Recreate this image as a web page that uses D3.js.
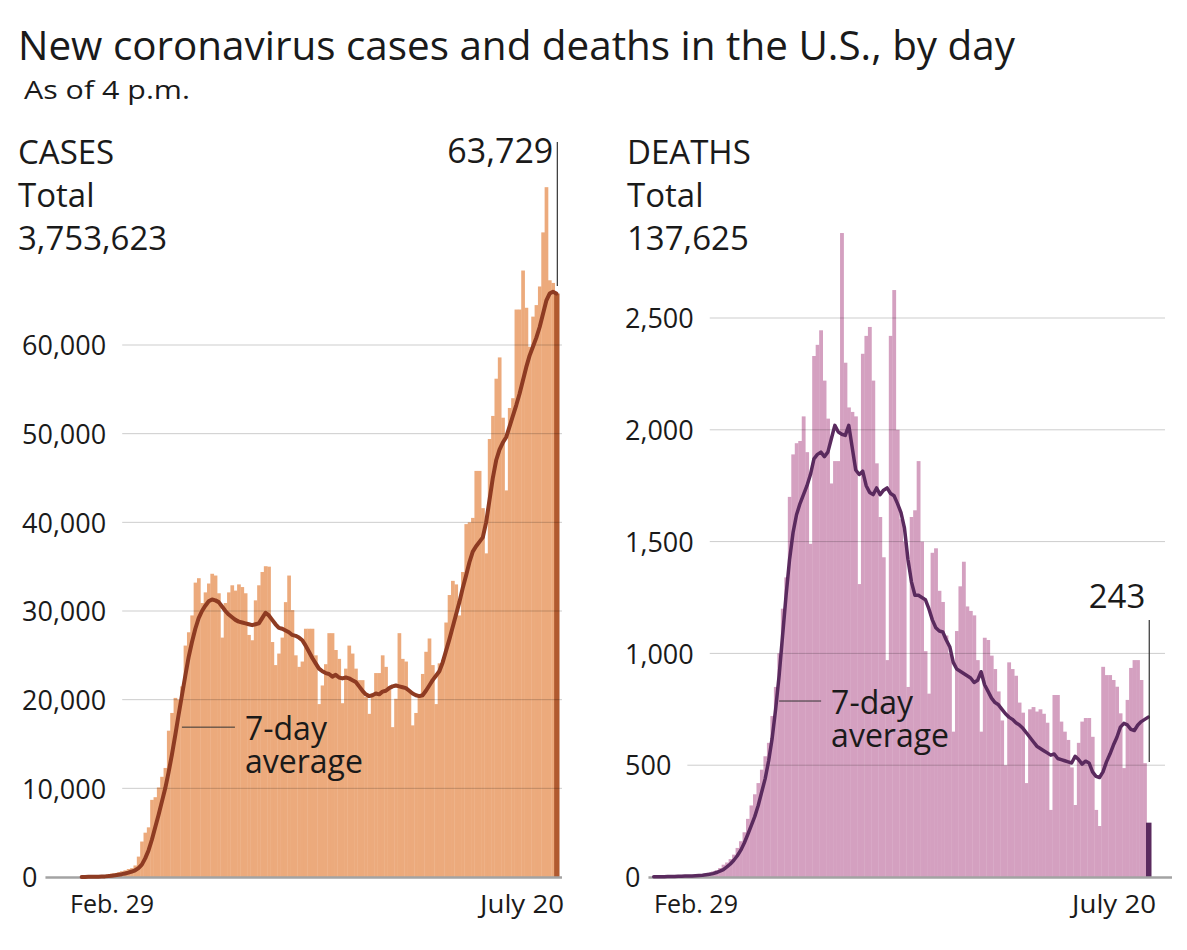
<!DOCTYPE html>
<html><head><meta charset="utf-8">
<script src="https://cdn.jsdelivr.net/npm/d3@7/dist/d3.min.js"></script>
<style>
body{margin:0;background:#fff}
text{font-family:"Open Sans",sans-serif;fill:#1a1a1a}
</style>
</head><body>
<svg id="c" width="1187" height="950"></svg>
<script>
// ---------- DATA ----------
const dates = d3.timeDay.range(new Date(2020, 1, 29), new Date(2020, 6, 21)); // Feb 29 .. July 20

const caseValues = [
  10,20,25,30,60,80,120,200,300,400,
  450,550,650,750,900,1000,1300,2300,4000,5000,
  5600,8700,9000,10100,11300,12300,16500,18500,20200,20000,
  21500,26100,27600,29500,33200,33700,30900,32100,33100,34200,
  34000,32000,27000,30900,32100,32900,32300,33000,32700,32000,
  27300,26700,31200,32900,34400,35050,35000,26500,23900,25200,
  27000,31000,34000,30100,25000,23700,24300,28000,28000,28000,
  25000,19500,21600,24000,27500,27500,25600,24600,19600,23500,
  26100,25200,23500,22200,22200,20300,18400,20300,23000,23000,
  25000,23700,21100,16900,20100,27500,24600,24300,21000,17100,
  18500,20500,22900,25400,26900,23900,19500,24100,24500,28700,
  31800,33400,33000,29500,34400,39800,40000,40500,45800,45800,
  41600,36500,49400,52000,56200,58600,51800,43600,52900,54000,
  64000,64000,68400,64200,59800,63200,64500,66600,72700,77800,
  67300,67000,65800
];
const caseAvg = [
  10,12,15,18,25,35,50,70,100,140,
  190,250,320,400,500,620,760,1000,1400,2100,
  3000,4200,5600,7000,8500,10000,11800,13800,16000,18300,
  20500,22700,24800,26500,28000,29200,30000,30600,31100,31300,
  31200,31000,30500,30000,29600,29300,29000,28800,28700,28600,
  28500,28400,28500,28600,29200,29800,29500,29000,28500,28100,
  28000,27800,27600,27300,27200,27000,26700,26100,25400,24700,
  24100,23500,23200,23000,22900,22600,22800,22500,22400,22500,
  22400,22200,22000,21500,21000,20600,20400,20500,20700,20600,
  20900,21000,21300,21500,21600,21500,21400,21300,21000,20700,
  20500,20400,20500,21000,21600,22200,22700,23200,24200,25500,
  26800,28200,29600,31000,32600,34000,35500,36700,37300,37800,
  38300,40000,42500,45000,47000,48200,49000,49600,50800,52000,
  53200,54500,56000,57500,58800,59800,60800,62000,63500,65000,
  65800,66000,65800
];
const deathValues = [
  1,1,2,1,2,3,2,4,5,4,
  7,8,9,11,12,15,20,25,30,40,
  55,65,80,100,130,160,200,260,320,370,
  420,480,540,600,720,850,1000,1200,1340,1700,
  1890,1940,1950,2060,1900,1490,2330,2380,2445,2220,
  2050,1760,1860,1860,2880,2300,2100,2080,2060,1310,
  2340,2420,2460,2220,1850,1610,1430,970,2420,2625,
  2000,1600,1500,850,1610,1640,1860,1500,1010,820,
  1450,1470,1280,1230,1080,1000,650,1100,1300,1410,
  1210,1190,1170,970,650,1070,1060,990,930,830,
  700,500,960,930,900,780,735,420,750,760,
  740,750,730,690,300,814,814,695,650,613,
  490,322,600,695,711,711,627,300,228,940,
  903,903,881,851,732,487,792,935,970,970,
  881,509,243
];
const deathAvg = [
  1,1,1,1,2,2,2,3,3,4,
  4,5,6,7,8,10,12,15,20,26,
  33,45,58,75,95,120,152,190,230,270,
  320,380,440,520,620,750,900,1080,1260,1420,
  1540,1620,1670,1710,1750,1800,1870,1890,1900,1880,
  1900,1960,2020,1990,1980,1975,2020,1920,1820,1800,
  1815,1750,1720,1710,1740,1710,1730,1740,1715,1705,
  1670,1630,1560,1420,1320,1260,1260,1250,1240,1200,
  1150,1115,1100,1096,1060,1030,960,930,920,910,
  900,890,870,880,918,860,830,800,780,770,
  750,730,715,705,690,680,665,645,625,605,
  585,575,565,555,545,550,530,525,520,515,
  510,540,525,505,518,510,470,450,445,470,
  515,550,590,625,670,687,680,660,655,680,
  695,705,715
];
const caseTicks = [0, 10000, 20000, 30000, 40000, 50000, 60000];
const deathTicks = [0, 500, 1000, 1500, 2000, 2500];
const xTickLabels = ["Feb. 29", "July 20"];

// ---------- DRAW ----------
const svg = d3.select("#c");

svg.append("text").attr("x", 18).attr("y", 60)
  .attr("font-size", 41).attr("textLength", 997).attr("lengthAdjust", "spacingAndGlyphs")
  .text("New coronavirus cases and deaths in the U.S., by day");
svg.append("text").attr("x", 24).attr("y", 99).attr("font-size", 26)
  .attr("textLength", 166).attr("lengthAdjust", "spacingAndGlyphs").text("As of 4 p.m.");

function panel(cfg) {
  const g = svg.append("g");
  const x = d3.scaleBand().domain(dates).range(cfg.xRange).padding(0);
  const y = d3.scaleLinear().domain(cfg.yDomain).range([877, cfg.yTop]);
  const bw = x.bandwidth();
  const n = cfg.values.length;

  // header (one text block, three lines)
  const h = g.append("text").attr("x", cfg.headerX).attr("y", 164).attr("font-size", 33);
  cfg.header.forEach((t, k) => {
    h.append("tspan").attr("x", cfg.headerX).attr("dy", k === 0 ? 0 : 43).text(t);
  });

  // bars
  g.append("g").selectAll("rect").data(cfg.values).join("rect")
    .attr("x", (d, i) => i === n - 1 ? x(dates[i]) - 0.5 : x(dates[i]))
    .attr("y", d => y(d))
    .attr("width", (d, i) => i === n - 1 ? bw + 2 : bw + 0.35)
    .attr("height", d => y(0) - y(d))
    .attr("fill", (d, i) => i === n - 1 ? cfg.lastColor : cfg.barColor);

  // y axis labels (left aligned)
  const ax = g.append("g").attr("transform", `translate(${cfg.labelX},0)`)
    .call(d3.axisRight(y).tickValues(cfg.ticks).tickFormat(d3.format(",")).tickSize(0).tickPadding(0));
  ax.select(".domain").remove();
  ax.selectAll("text").attr("font-size", 27).attr("font-family", "'Open Sans',sans-serif")
    .attr("fill", "#1a1a1a").attr("dy", "0.36em");

  // grid lines starting after each label
  ax.selectAll(".tick").each(function(t) {
    const w = this.querySelector("text").getComputedTextLength();
    const x0 = cfg.labelX + w + (t === 0 ? 8 : 16);
    if (t === 0) {
      g.append("line").attr("x1", x0).attr("x2", cfg.baseEnd)
        .attr("y1", y(0) + 0.5).attr("y2", y(0) + 0.5)
        .attr("stroke", "#a3a3a3").attr("stroke-width", 2.5);
    } else {
      g.append("line").attr("x1", x0).attr("x2", cfg.gridEnd)
        .attr("y1", y(t)).attr("y2", y(t))
        .attr("stroke", "#000").attr("stroke-opacity", 0.2).attr("stroke-width", 1);
    }
  });

  // 7-day average line
  const line = d3.line()
    .x((d, i) => x(dates[i]) + bw / 2)
    .y(d => y(d));
  g.append("path").datum(cfg.avg).attr("d", line)
    .attr("fill", "none").attr("stroke", cfg.lineColor)
    .attr("stroke-width", cfg.lineWidth).attr("stroke-linejoin", "round").attr("stroke-linecap", "round");

  // x axis labels
  const xa = g.append("g").attr("transform", "translate(0,877)")
    .call(d3.axisBottom(x).tickValues([dates[0], dates[n - 1]])
      .tickFormat((d, k) => xTickLabels[k]).tickSize(0).tickPadding(0));
  xa.select(".domain").remove();
  xa.selectAll("text")
    .attr("font-size", 25).attr("font-family", "'Open Sans',sans-serif").attr("fill", "#1a1a1a")
    .attr("y", 36).attr("dy", 0)
    .attr("textLength", 84).attr("lengthAdjust", "spacingAndGlyphs")
    .attr("text-anchor", (d, k) => k === 0 ? "start" : "end")
    .attr("x", (d, k) => k === 0 ? cfg.firstLabelDx - bw / 2 : bw / 2 + cfg.lastLabelDx);

  // last-value annotation
  const lx = x(dates[n - 1]) + bw / 2 + 1;
  g.append("line").attr("x1", lx).attr("x2", lx)
    .attr("y1", cfg.annoTop).attr("y2", cfg.annoBottom)
    .attr("stroke", "#333").attr("stroke-width", 1.2);
  g.append("text").attr("x", lx - 4).attr("y", cfg.annoTextY).attr("text-anchor", "end")
    .attr("font-size", cfg.annoSize).text(d3.format(",")(cfg.lastLabelValue));

  // 7-day average label with leader line
  const li = cfg.avgLabelIndex;
  const ly = y(cfg.leaderValue);
  const lx0 = x(dates[li]) + bw / 2;
  g.append("line").attr("x1", lx0).attr("x2", lx0 + cfg.leaderLen)
    .attr("y1", ly).attr("y2", ly).attr("stroke", "#333").attr("stroke-width", 1);
  const tx = lx0 + cfg.leaderLen + 10;
  const lab = g.append("text").attr("x", tx).attr("y", ly + 13).attr("font-size", 32);
  lab.append("tspan").attr("x", tx).attr("dy", 0).text("7-day");
  lab.append("tspan").attr("x", tx).attr("dy", 33).text("average");
}

panel({
  values: caseValues, avg: caseAvg, ticks: caseTicks,
  xRange: [80, 558], yDomain: [0, 60000], yTop: 345,
  header: ["CASES", "Total", "3,753,623"], headerX: 18,
  barColor: "#ecaa7c", lastColor: "#b05a30", lineColor: "#8e3b22", lineWidth: 4,
  labelX: 22, gridEnd: 562, baseEnd: 562,
  firstLabelDx: -10, lastLabelDx: 6,
  annoTop: 142, annoBottom: 286, annoTextY: 163, annoSize: 34, lastLabelValue: 63729,
  avgLabelIndex: 30, leaderValue: 16900, leaderLen: 53
});

panel({
  values: deathValues, avg: deathAvg, ticks: deathTicks,
  xRange: [652, 1150], yDomain: [0, 2500], yTop: 318,
  header: ["DEATHS", "Total", "137,625"], headerX: 627,
  barColor: "#d4a0c0", lastColor: "#5a2a5e", lineColor: "#5a2a5e", lineWidth: 3.5,
  labelX: 625, gridEnd: 1165, baseEnd: 1172,
  firstLabelDx: 2, lastLabelDx: 6,
  annoTop: 620, annoBottom: 762, annoTextY: 608, annoSize: 33, lastLabelValue: 243,
  avgLabelIndex: 36, leaderValue: 787, leaderLen: 42
});
</script>
</body></html>
